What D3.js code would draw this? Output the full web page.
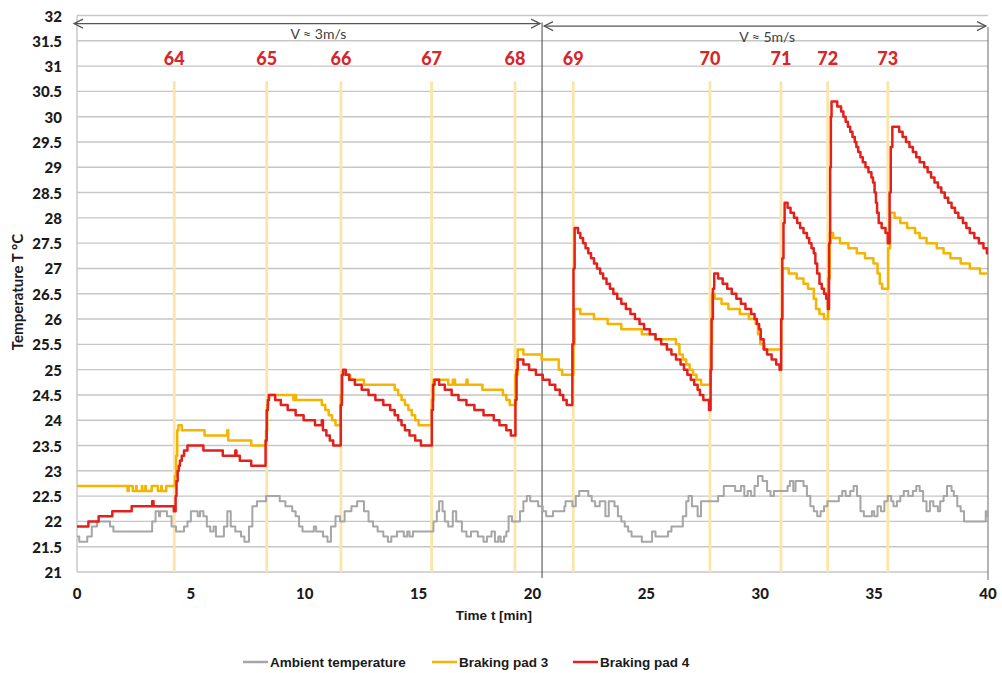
<!DOCTYPE html>
<html>
<head>
<meta charset="utf-8">
<script src="https://cdn.jsdelivr.net/npm/d3@7/dist/d3.min.js"></script>
<style>
  html, body { margin: 0; padding: 0; background: #fff; }
  svg { display: block; }
</style>
</head>
<body>
<div id="chart"></div>
<script>
// ---- data ----
const yTickValues = [21, 21.5, 22, 22.5, 23, 23.5, 24, 24.5, 25, 25.5, 26, 26.5, 27, 27.5, 28, 28.5, 29, 29.5, 30, 30.5, 31, 31.5, 32];
const xTickValues = [0, 5, 10, 15, 20, 25, 30, 35, 40];

// braking events: start time [min] and run number
const eventTimes = [4.27, 8.33, 11.59, 15.57, 19.23, 21.79, 27.79, 30.91, 32.96, 35.6];
const eventLabels = ['64', '65', '66', '67', '68', '69', '70', '71', '72', '73'];

// speed ranges
const speedBoundary = 20.42;
const speedTexts = ['V ≈ 3m/s', 'V ≈ 5m/s'];
const speedTextAt = [10.6, 30.3];

// [time min, temperature °C], step-after
const ambient = [
  [0, 21.7], [0.1, 21.6], [0.45, 21.7], [0.65, 21.9], [0.88, 22.0], [1.45, 21.9], [1.6, 21.8], [3.3, 22.0], [3.45, 22.2],
  [3.6, 22.1], [3.65, 22.2], [3.95, 22.1], [4.15, 21.9], [4.35, 21.8], [4.7, 21.9], [4.85, 22.0], [5.0, 22.2], [5.3, 22.1],
  [5.4, 22.2], [5.55, 22.1], [5.7, 21.9], [5.85, 21.8], [6.0, 21.9], [6.1, 21.7], [6.45, 21.9], [6.6, 22.2], [6.75, 21.9],
  [6.95, 21.8], [7.2, 21.7], [7.35, 21.6], [7.55, 21.9], [7.7, 22.3], [7.9, 22.4], [8.3, 22.5], [8.9, 22.4], [9.15, 22.3],
  [9.45, 22.2], [9.6, 22.1], [9.75, 21.9], [9.9, 21.8], [10.4, 21.9], [10.5, 21.8], [10.8, 21.7], [11.0, 21.6], [11.15, 21.9],
  [11.35, 22.1], [11.55, 22.0], [11.75, 22.2], [12.05, 22.3], [12.3, 22.4], [12.6, 22.2], [12.8, 22.0], [13.0, 21.9],
  [13.2, 21.8], [13.45, 21.7], [13.65, 21.6], [13.8, 21.7], [14.05, 21.8], [14.35, 21.7], [14.5, 21.8], [14.6, 21.7],
  [14.75, 21.8], [15.65, 22.0], [15.8, 22.2], [15.9, 22.4], [16.05, 22.2], [16.15, 22.0], [16.3, 21.9], [16.5, 22.2],
  [16.65, 22.0], [16.9, 21.8], [17.1, 21.7], [17.3, 21.8], [17.6, 21.7], [17.85, 21.6], [18.0, 21.7], [18.2, 21.8],
  [18.35, 21.6], [18.5, 21.7], [18.6, 21.6], [18.75, 21.7], [18.85, 21.8], [18.95, 22.1], [19.1, 22.0], [19.45, 22.2],
  [19.6, 22.4], [19.75, 22.5], [19.9, 22.4], [20.25, 22.3], [20.45, 22.2], [20.6, 22.1], [20.9, 22.2], [21.4, 22.3],
  [21.45, 22.4], [21.75, 22.3], [21.9, 22.5], [22.05, 22.6], [22.45, 22.5], [22.6, 22.4], [22.75, 22.3], [22.95, 22.4],
  [23.2, 22.1], [23.35, 22.4], [23.6, 22.3], [23.75, 22.1], [23.9, 22.0], [24.05, 21.9], [24.2, 21.8], [24.35, 21.7],
  [24.8, 21.6], [25.25, 21.8], [25.4, 21.7], [25.95, 21.8], [26.1, 21.9], [26.6, 22.1], [26.75, 22.4], [26.85, 22.5],
  [27.0, 22.3], [27.25, 22.1], [27.4, 22.4], [28.15, 22.5], [28.4, 22.7], [28.9, 22.6], [29.15, 22.7], [29.3, 22.5],
  [29.45, 22.6], [29.6, 22.5], [29.75, 22.7], [29.9, 22.9], [30.1, 22.8], [30.3, 22.6], [30.45, 22.5], [30.6, 22.6],
  [31.2, 22.7], [31.3, 22.8], [31.45, 22.6], [31.55, 22.8], [31.9, 22.7], [32.05, 22.5], [32.2, 22.3], [32.35, 22.2],
  [32.5, 22.1], [32.65, 22.2], [32.8, 22.3], [32.95, 22.4], [33.45, 22.5], [33.6, 22.6], [33.75, 22.5], [33.95, 22.6],
  [34.1, 22.7], [34.25, 22.5], [34.4, 22.2], [34.55, 22.1], [34.9, 22.2], [35.0, 22.1], [35.15, 22.3], [35.3, 22.2],
  [35.45, 22.4], [35.6, 22.5], [35.75, 22.4], [35.85, 22.3], [36.0, 22.4], [36.15, 22.5], [36.3, 22.6], [36.5, 22.5],
  [36.7, 22.6], [36.85, 22.7], [37.0, 22.6], [37.15, 22.4], [37.3, 22.2], [37.45, 22.4], [37.6, 22.3], [37.8, 22.2],
  [37.9, 22.4], [38.05, 22.5], [38.2, 22.7], [38.4, 22.6], [38.5, 22.5], [38.65, 22.3], [38.8, 22.2], [38.95, 22.0],
  [39.9, 22.2], [39.97, 22.1], [40, 22.1]
];

const pad3 = [
  [0, 22.7], [2.22, 22.6], [2.27, 22.7], [2.45, 22.6], [2.6, 22.7], [2.62, 22.6], [2.85, 22.7], [2.87, 22.6], [3.0, 22.7],
  [3.02, 22.6], [3.28, 22.7], [3.55, 22.6], [3.7, 22.7], [3.72, 22.6], [3.92, 22.7], [4.3, 22.9], [4.35, 23.3], [4.4, 23.8],
  [4.45, 23.9], [4.6, 23.8], [5.6, 23.7], [6.6, 23.8], [6.64, 23.6], [7.65, 23.5], [8.3, 23.8], [8.35, 24.3], [8.4, 24.5],
  [9.5, 24.4], [9.55, 24.5], [9.62, 24.4], [10.75, 24.3], [10.9, 24.2], [11.05, 24.1], [11.2, 24.0], [11.35, 23.9],
  [11.58, 24.5], [11.65, 24.9], [12.0, 24.8], [12.6, 24.7], [13.95, 24.6], [14.1, 24.5], [14.25, 24.4], [14.4, 24.3],
  [14.55, 24.2], [14.7, 24.1], [14.85, 24.0], [15.0, 23.9], [15.58, 24.4], [15.65, 24.8], [16.3, 24.7], [16.5, 24.8],
  [16.6, 24.7], [17.1, 24.8], [17.15, 24.7], [17.8, 24.6], [18.7, 24.5], [18.85, 24.4], [19.0, 24.3], [19.25, 24.9],
  [19.35, 25.4], [19.6, 25.3], [20.4, 25.2], [21.15, 25.0], [21.3, 24.9], [21.8, 25.5], [21.85, 26.2], [22.1, 26.1],
  [22.7, 26.0], [23.3, 25.9], [23.9, 25.8], [24.8, 25.7], [25.4, 25.6], [26.3, 25.5], [26.45, 25.3], [26.6, 25.2],
  [26.75, 25.1], [26.9, 25.0], [27.05, 24.9], [27.2, 24.8], [27.4, 24.7], [27.82, 25.5], [27.88, 26.5], [28.0, 26.4],
  [28.3, 26.3], [28.6, 26.2], [29.1, 26.1], [29.5, 26.0], [29.8, 25.9], [29.9, 25.7], [30.0, 25.5], [30.2, 25.4],
  [30.92, 26.0], [30.97, 27.0], [31.25, 26.9], [31.6, 26.8], [31.9, 26.7], [32.1, 26.6], [32.35, 26.4], [32.45, 26.2],
  [32.6, 26.1], [32.8, 26.0], [32.98, 26.8], [33.05, 27.7], [33.2, 27.6], [33.5, 27.5], [33.87, 27.4], [34.24, 27.3],
  [34.6, 27.2], [34.97, 27.1], [35.15, 26.9], [35.25, 26.7], [35.35, 26.6], [35.62, 27.4], [35.7, 28.1], [35.9, 28.0],
  [36.15, 27.9], [36.45, 27.8], [36.8, 27.7], [37.0, 27.6], [37.3, 27.5], [37.75, 27.4], [38.05, 27.3], [38.35, 27.2],
  [38.8, 27.1], [39.2, 27.0], [39.65, 26.9], [40, 26.9]
];

const pad4 = [
  [0, 21.9], [0.5, 22.0], [0.95, 22.1], [1.55, 22.2], [2.4, 22.3], [3.3, 22.4], [3.36, 22.3], [4.25, 22.2], [4.33, 22.5],
  [4.37, 22.8], [4.42, 23.0], [4.47, 23.1], [4.52, 23.2], [4.6, 23.3], [4.7, 23.4], [4.85, 23.5], [5.55, 23.4], [6.4, 23.3],
  [6.95, 23.4], [7.0, 23.3], [7.15, 23.2], [7.65, 23.1], [8.28, 23.6], [8.33, 24.2], [8.38, 24.4], [8.43, 24.5], [8.7, 24.4],
  [8.95, 24.3], [9.25, 24.2], [9.6, 24.1], [9.95, 24.0], [10.45, 23.9], [10.75, 24.0], [10.8, 23.8], [10.95, 23.7],
  [11.1, 23.6], [11.25, 23.5], [11.58, 24.3], [11.63, 24.9], [11.68, 25.0], [11.8, 24.9], [11.95, 24.8], [12.2, 24.7],
  [12.5, 24.6], [12.8, 24.5], [13.1, 24.4], [13.45, 24.3], [13.75, 24.2], [13.95, 24.1], [14.1, 24.0], [14.25, 23.9],
  [14.4, 23.8], [14.6, 23.7], [14.85, 23.6], [15.1, 23.5], [15.58, 24.2], [15.63, 24.7], [15.7, 24.8], [15.9, 24.7],
  [16.15, 24.6], [16.45, 24.5], [16.75, 24.4], [17.1, 24.3], [17.45, 24.2], [17.85, 24.1], [18.3, 24.0], [18.55, 23.9],
  [18.85, 23.8], [19.05, 23.7], [19.25, 24.4], [19.3, 25.0], [19.35, 25.2], [19.6, 25.1], [19.85, 25.0], [20.15, 24.9],
  [20.45, 24.8], [20.75, 24.7], [21.0, 24.6], [21.2, 24.5], [21.35, 24.4], [21.5, 24.3], [21.75, 25.5], [21.8, 27.0],
  [21.85, 27.8], [22.0, 27.7], [22.1, 27.6], [22.22, 27.5], [22.33, 27.4], [22.45, 27.3], [22.57, 27.2], [22.7, 27.1],
  [22.83, 27.0], [22.97, 26.9], [23.1, 26.8], [23.25, 26.7], [23.4, 26.6], [23.55, 26.5], [23.72, 26.4], [23.9, 26.3],
  [24.1, 26.2], [24.3, 26.1], [24.5, 26.0], [24.7, 25.9], [24.9, 25.8], [25.15, 25.7], [25.4, 25.6], [25.65, 25.5],
  [25.9, 25.4], [26.1, 25.3], [26.3, 25.2], [26.5, 25.1], [26.65, 25.0], [26.8, 24.9], [26.95, 24.8], [27.1, 24.7],
  [27.25, 24.6], [27.35, 24.5], [27.5, 24.4], [27.75, 24.2], [27.82, 25.0], [27.86, 26.0], [27.92, 26.6], [27.98, 26.9],
  [28.15, 26.8], [28.35, 26.7], [28.55, 26.6], [28.75, 26.5], [28.95, 26.4], [29.15, 26.3], [29.35, 26.2], [29.6, 26.1],
  [29.75, 26.0], [29.85, 25.9], [29.95, 25.8], [30.02, 25.6], [30.15, 25.4], [30.3, 25.3], [30.5, 25.2], [30.7, 25.1],
  [30.85, 25.0], [30.92, 26.0], [30.97, 27.2], [31.02, 27.9], [31.07, 28.3], [31.2, 28.2], [31.33, 28.1], [31.48, 28.0],
  [31.62, 27.9], [31.75, 27.8], [31.9, 27.7], [32.05, 27.6], [32.15, 27.5], [32.25, 27.4], [32.35, 27.3], [32.42, 27.1],
  [32.5, 26.9], [32.6, 26.7], [32.7, 26.6], [32.8, 26.5], [32.9, 26.4], [32.97, 26.2], [33.02, 27.5], [33.07, 29.0],
  [33.1, 30.0], [33.13, 30.3], [33.38, 30.2], [33.55, 30.1], [33.65, 30.0], [33.75, 29.9], [33.85, 29.8], [33.95, 29.7],
  [34.05, 29.6], [34.15, 29.5], [34.22, 29.4], [34.3, 29.3], [34.4, 29.2], [34.5, 29.1], [34.62, 29.0], [34.75, 28.9],
  [34.88, 28.8], [34.95, 28.7], [35.02, 28.5], [35.08, 28.3], [35.13, 28.1], [35.2, 27.9], [35.33, 27.8], [35.5, 27.7],
  [35.6, 27.5], [35.68, 28.5], [35.73, 29.4], [35.8, 29.8], [36.1, 29.7], [36.25, 29.6], [36.4, 29.5], [36.55, 29.4],
  [36.7, 29.3], [36.85, 29.2], [37.0, 29.1], [37.2, 29.0], [37.35, 28.9], [37.5, 28.8], [37.65, 28.7], [37.8, 28.6],
  [37.95, 28.5], [38.1, 28.4], [38.25, 28.3], [38.4, 28.2], [38.55, 28.1], [38.7, 28.0], [38.9, 27.9], [39.05, 27.8],
  [39.2, 27.7], [39.4, 27.6], [39.6, 27.5], [39.8, 27.4], [39.95, 27.3], [40, 27.3]
];

const seriesNames = ['Ambient temperature', 'Braking pad 3', 'Braking pad 4'];
const seriesData = [ambient, pad3, pad4];
const seriesColors = ['#a6a6a6', '#f4b400', '#e3201b'];

// ---- chart ----
class BrakeChart {
    constructor(containerId) {
        this.container = d3.select(`#${containerId}`);
        this.width = 1002;
        this.height = 673;
        this.margins = { top: 15.5, right: 14, bottom: 101, left: 77 };
    }

    initialize() {
        this.svg = this.container.append('svg')
            .attr('width', this.width)
            .attr('height', this.height);

        const m = this.margins;
        this.x = d3.scaleLinear().domain([0, 40]).range([m.left, this.width - m.right]);
        this.y = d3.scaleLinear().domain([21, 32]).range([this.height - m.bottom, m.top]);

        this.drawGrid();
        this.drawEvents();
        this.drawSpeedRanges();
        this.drawSeries();
        this.drawAxes();
        this.drawLegend();
    }

    drawGrid() {
        const g = this.svg.append('g').attr('class', 'grid');
        g.selectAll('line.h')
            .data(yTickValues)
            .enter()
            .append('line')
            .attr('x1', this.x(0))
            .attr('x2', this.x(40))
            .attr('y1', d => this.y(d))
            .attr('y2', d => this.y(d))
            .style('stroke', '#c6c6c6')
            .style('stroke-width', 1.4);

        g.append('line')
            .attr('x1', this.x(0)).attr('x2', this.x(0))
            .attr('y1', this.y(21)).attr('y2', this.y(32))
            .style('stroke', '#c6c6c6')
            .style('stroke-width', 1.4);
    }

    drawEvents() {
        const g = this.svg.append('g').attr('class', 'events');
        g.selectAll('line')
            .data(eventTimes)
            .enter()
            .append('line')
            .attr('x1', d => this.x(d))
            .attr('x2', d => this.x(d))
            .attr('y1', this.y(30.7))
            .attr('y2', this.y(21))
            .style('stroke', '#fbe6a8')
            .style('stroke-width', 2.8);

        g.selectAll('text')
            .data(eventTimes)
            .enter()
            .append('text')
            .attr('x', d => this.x(d))
            .attr('y', this.y(31.16))
            .attr('text-anchor', 'middle')
            .attr('dominant-baseline', 'central')
            .style('font-family', 'Lato, sans-serif')
            .style('font-weight', '900')
            .style('font-size', '18px')
            .style('fill', '#d7262b')
            .text((d, i) => eventLabels[i]);
    }

    drawSpeedRanges() {
        const defs = this.svg.append('defs');
        defs.append('marker')
            .attr('id', 'chev')
            .attr('viewBox', '-11 -6 13 12')
            .attr('markerUnits', 'userSpaceOnUse')
            .attr('markerWidth', 13)
            .attr('markerHeight', 12)
            .attr('refX', 0)
            .attr('refY', 0)
            .attr('orient', 'auto-start-reverse')
            .append('path')
            .attr('d', 'M-9,-4.5 L0,0 L-9,4.5')
            .style('fill', 'none')
            .style('stroke', '#555')
            .style('stroke-width', 1.2);

        const g = this.svg.append('g').attr('class', 'speed');
        const xb = this.x(speedBoundary);
        const arrowY = [this.y(31.84), this.y(31.79)];
        const spans = [[this.x(0) - 3, xb - 2], [xb + 2, this.x(40) - 2]];

        spans.forEach((s, i) => {
            g.append('line')
                .attr('x1', s[0]).attr('x2', s[1])
                .attr('y1', arrowY[i]).attr('y2', arrowY[i])
                .attr('marker-start', 'url(#chev)')
                .attr('marker-end', 'url(#chev)')
                .style('stroke', '#555')
                .style('stroke-width', 1.2);

            g.append('text')
                .attr('x', this.x(speedTextAt[i]))
                .attr('y', arrowY[i] + 10)
                .attr('text-anchor', 'middle')
                .attr('dominant-baseline', 'central')
                .style('font-family', 'Lato, sans-serif')
                .style('font-size', '14px')
                .style('fill', '#404040')
                .text(speedTexts[i]);
        });

        // boundary between speed ranges and right frame
        g.append('line')
            .attr('x1', xb).attr('x2', xb)
            .attr('y1', arrowY[0] - 1).attr('y2', this.y(21) + 6)
            .style('stroke', '#555')
            .style('stroke-width', 1.1);
        g.append('line')
            .attr('x1', this.x(40)).attr('x2', this.x(40))
            .attr('y1', arrowY[1] + 1).attr('y2', this.y(21) + 8)
            .style('stroke', '#777')
            .style('stroke-width', 1.1);
    }

    drawSeries() {
        const line = d3.line()
            .x(d => this.x(d[0]))
            .y(d => this.y(d[1]))
            .curve(d3.curveStepAfter);

        this.svg.append('g').attr('class', 'series')
            .selectAll('path')
            .data(seriesData)
            .enter()
            .append('path')
            .attr('d', line)
            .style('fill', 'none')
            .style('stroke', (d, i) => seriesColors[i])
            .style('stroke-width', (d, i) => i === 0 ? 2 : 2.5)
            .style('stroke-linejoin', 'round');
    }

    drawAxes() {
        const g = this.svg.append('g').attr('class', 'axes')
            .style('font-family', 'Lato, sans-serif')
            .style('font-weight', '900')
            .style('fill', '#1a1a1a');

        g.selectAll('text.ytick')
            .data(yTickValues)
            .enter()
            .append('text')
            .attr('x', this.x(0) - 15)
            .attr('y', d => this.y(d))
            .attr('text-anchor', 'end')
            .attr('dominant-baseline', 'central')
            .style('font-size', '15px')
            .text(d => d);

        g.selectAll('text.xtick')
            .data(xTickValues)
            .enter()
            .append('text')
            .attr('x', d => this.x(d))
            .attr('y', this.y(21) + 21)
            .attr('text-anchor', 'middle')
            .attr('dominant-baseline', 'central')
            .style('font-size', '15px')
            .text(d => d);

        g.append('text')
            .attr('transform', `translate(17, 292) rotate(-90)`)
            .attr('text-anchor', 'middle')
            .attr('dominant-baseline', 'central')
            .style('font-weight', 'bold')
            .style('font-size', '15px')
            .text('Temperature T °C');

        g.append('text')
            .attr('x', 494)
            .attr('y', 615)
            .attr('text-anchor', 'middle')
            .attr('dominant-baseline', 'central')
            .style('font-family', '"Liberation Sans", Arial, sans-serif')
            .style('font-weight', 'bold')
            .style('font-size', '13.5px')
            .text('Time t [min]');
    }

    drawLegend() {
        const starts = [243, 432, 573];
        const g = this.svg.append('g').attr('class', 'legend');
        const items = g.selectAll('g')
            .data(seriesNames)
            .enter()
            .append('g')
            .attr('transform', (d, i) => `translate(${starts[i]}, 662)`);

        items.append('line')
            .attr('x1', 0).attr('x2', 25)
            .style('stroke', (d, i) => seriesColors[i])
            .style('stroke-width', 2.5);

        items.append('text')
            .attr('x', 27)
            .attr('dominant-baseline', 'central')
            .style('font-family', '"Liberation Sans", Arial, sans-serif')
            .style('font-weight', 'bold')
            .style('font-size', '13.5px')
            .style('fill', '#1a1a1a')
            .text(d => d);
    }
}

const chart = new BrakeChart('chart');
chart.initialize();
</script>
</body>
</html>
